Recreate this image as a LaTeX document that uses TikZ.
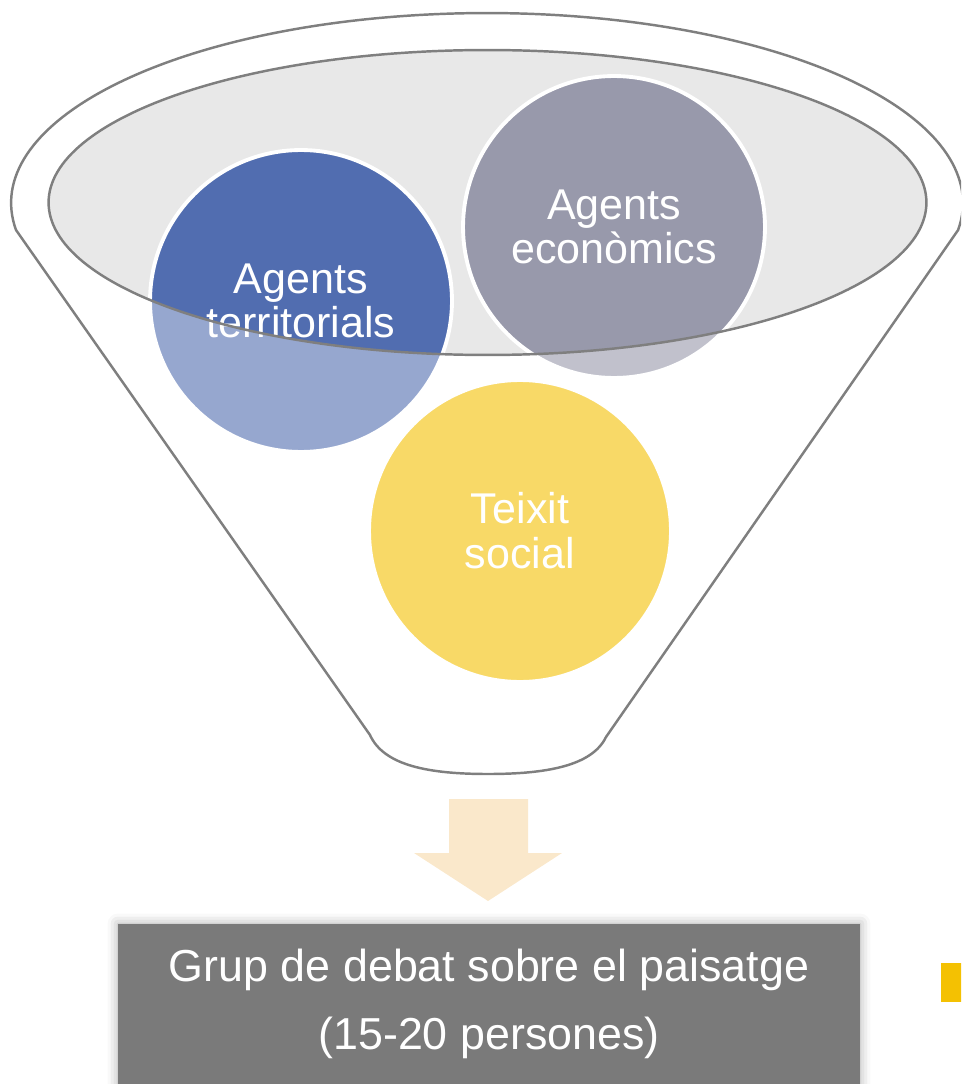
\documentclass[tikz,border=0pt]{standalone}
\usepackage{fontspec}
\setmainfont{Liberation Sans}
\usetikzlibrary{shadows.blur}
\definecolor{blauag}{RGB}{81,109,176}
\definecolor{grisag}{RGB}{152,153,171}
\definecolor{orag}{RGB}{244,193,2}
\definecolor{fonsel}{RGB}{232,232,232}
\definecolor{linia}{RGB}{127,127,127}
\definecolor{griscaixa}{RGB}{122,122,122}
\definecolor{fletxa}{RGB}{250,232,203}
\tikzset{
  ag/.style={circle, minimum size=6.04cm, inner sep=0pt, align=center, draw=white, line width=2.2pt, text=white, font=\fontsize{24.5}{25.5}\selectfont},
  vora/.style={draw=linia, line width=1.4pt},
  caixa/.style={rectangle, fill=griscaixa, text=white, minimum width=14.84cm, minimum height=3.2cm, inner sep=0pt, align=center, font=\fontsize{25.5}{39}\selectfont,
    blur shadow={shadow xshift=0pt, shadow yshift=0pt, shadow blur radius=6pt, shadow opacity=35}}
}
\newcommand{\embut}{(370,735) -- (16,230) arc[start angle=188.17, end angle=-8.17, x radius=9.52cm, y radius=3.8cm] -- (606,737) .. controls (592,766) and (546,774) .. (488,774) .. controls (430,774) and (384,766) .. cycle}

\begin{document}
\begin{tikzpicture}[x=0.02cm, y=-0.02cm]
\path[use as bounding box] (0,0) rectangle (961,1084);
\clip (0,0) rectangle (961,1084);

% embut
\fill[fonsel] (487.5,202.5) ellipse[x radius=8.78cm, y radius=3.05cm];
\node[ag, fill=blauag] (territ) at (301,301) {Agents\\territorials};
\node[ag, fill=grisag] (econ) at (614,227) {Agents\\econòmics};
\node[ag, fill=orag] (social) at (520,531) {Teixit\\social};
\fill[white, fill opacity=0.4, even odd rule] \embut (487.5,202.5) ellipse[x radius=8.78cm, y radius=3.05cm];
\draw[vora] \embut;
\draw[vora] (487.5,202.5) ellipse[x radius=8.78cm, y radius=3.05cm];

% fletxa i grup
\fill[fletxa] (449,799) -- (528,799) -- (528,853) -- (562,853) -- (488,901) -- (414,853) -- (449,853) -- cycle;
\node[caixa] (grup) at (489,1004) {Grup de debat sobre el paisatge\\(15-20 persones)};
\fill[orag] (941,963) rectangle (966,1002);
\end{tikzpicture}
\end{document}
